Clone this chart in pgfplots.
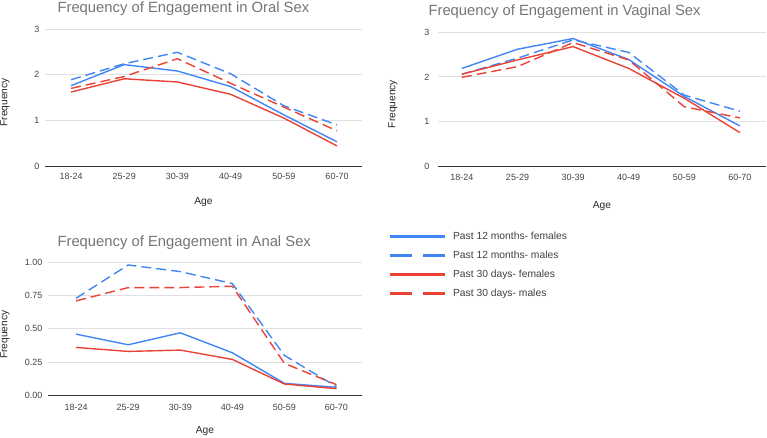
\documentclass[border=0pt]{standalone}
\usepackage{fontspec}
\setmainfont{Liberation Sans}
\usepackage{pgfplots}
\pgfplotsset{compat=1.18}
\definecolor{gblue}{HTML}{4285F4}
\definecolor{gred}{HTML}{EA4335}
\definecolor{gtitle}{HTML}{757575}
\definecolor{gtick}{HTML}{444444}
\definecolor{ggrid}{HTML}{E0E0E0}
\definecolor{gbase}{HTML}{333333}
\pgfplotsset{
  gchart/.style={
    scale only axis,
    axis x line*=bottom,
    axis y line*=left,
    x axis line style={draw=gbase, line width=0.9pt},
    y axis line style={draw=none},
    xtick={0,1,2,3,4,5},
    xticklabels={18-24,25-29,30-39,40-49,50-59,60-70},
    major tick length=0pt,
    ymajorgrids,
    grid style={draw=ggrid, line width=1pt},
    tick label style={font=\fontsize{9}{10}\selectfont, text=gtick},
    /pgf/number format/assume math mode=true,
    ymin=0,
    xlabel={Age},
    ylabel={Frequency},
    clip=false,
  },
  ylab/.style 2 args={every axis y label/.style={at={(axis description cs:0,#1)}, xshift=#2, anchor=center, rotate=90, font=\fontsize{10.2}{11}\selectfont, text=black!85}},
  xlab/.style={every axis x label/.style={at={(axis description cs:0.5,0)}, anchor=center, yshift=#1, font=\fontsize{10.2}{11}\selectfont, text=black!85}},
  fm/.style={gblue, line width=1.4pt},
  mm/.style={gblue, line width=1.4pt, dash pattern=on 10pt off 5pt},
  fd/.style={gred, line width=1.4pt},
  md/.style={gred, line width=1.4pt, dash pattern=on 10pt off 5pt},
}
\begin{document}
\begin{tikzpicture}[x=1pt,y=1pt]
\useasboundingbox (0,0) rectangle (767,-437);
% ---------- Oral ----------
\begin{axis}[gchart,
  at={(45pt,-166pt)}, anchor=south west,
  width=317pt, height=137pt,
  xmin=-0.49, xmax=5.47, ymax=3, ytick={0,1,2,3},
  yticklabel style={xshift=-2pt},
  xticklabel style={yshift=-3.5pt},
  xlab={-36pt}, ylab={0.464}{-40pt},
]
\addplot[fm] coordinates {(0,1.76) (1,2.22) (2,2.08) (3,1.74) (4,1.12) (5,0.53)};
\addplot[mm] coordinates {(0,1.89) (1,2.24) (2,2.49) (3,2.02) (4,1.32) (5,0.90)};
\addplot[fd] coordinates {(0,1.62) (1,1.91) (2,1.84) (3,1.57) (4,1.05) (5,0.44)};
\addplot[md] coordinates {(0,1.70) (1,1.96) (2,2.35) (3,1.81) (4,1.29) (5,0.77)};
\end{axis}
\node[anchor=base west, font=\fontsize{14.8}{16}\selectfont, text=gtitle] at (54,-12) {Frequency of Engagement in Oral Sex};
% ---------- Vaginal ----------
\begin{axis}[gchart,
  at={(438pt,-166pt)}, anchor=south west,
  width=328pt, height=133.7pt,
  xmin=-0.43, xmax=5.47, ymax=3, ytick={0,1,2,3},
  yticklabel style={xshift=-5pt},
  xticklabel style={yshift=-4.5pt},
  xlab={-40pt}, ylab={0.463}{-45pt},
]
\addplot[fm] coordinates {(0,2.19) (1,2.62) (2,2.86) (3,2.39) (4,1.56) (5,0.90)};
\addplot[mm] coordinates {(0,2.06) (1,2.42) (2,2.83) (3,2.55) (4,1.59) (5,1.23)};
\addplot[fd] coordinates {(0,2.06) (1,2.38) (2,2.68) (3,2.19) (4,1.52) (5,0.75)};
\addplot[md] coordinates {(0,1.99) (1,2.23) (2,2.77) (3,2.38) (4,1.33) (5,1.08)};
\end{axis}
\node[anchor=base west, font=\fontsize{14.8}{16}\selectfont, text=gtitle] at (425,-15) {Frequency of Engagement in Vaginal Sex};
% ---------- Anal ----------
\begin{axis}[gchart,
  at={(48pt,-395.3pt)}, anchor=south west,
  width=314pt, height=133pt,
  xmin=-0.54, xmax=5.49, ymax=1, ytick={0,0.25,0.5,0.75,1},
  yticklabel style={xshift=-2pt, /pgf/number format/.cd, fixed, fixed zerofill, precision=2},
  xticklabel style={yshift=-5pt},
  xlab={-36pt}, ylab={0.455}{-43pt},
  legend style={at={(axis description cs:1.0825,1.245)}, anchor=north west,
    draw=none, fill=none, inner sep=0pt, row sep=6.2pt, column sep=5pt,
    font=\fontsize{10.3}{11}\selectfont, text=black!75,
    legend cell align=left},
  legend image code/.code={\draw[#1] (0pt,0pt) -- (55pt,0pt);},
]
\addplot[fm, forget plot] coordinates {(0,0.46) (1,0.38) (2,0.47) (3,0.32) (4,0.09) (5,0.06)};
\addplot[mm, forget plot] coordinates {(0,0.73) (1,0.98) (2,0.93) (3,0.84) (4,0.30) (5,0.065)};
\addplot[fd, forget plot] coordinates {(0,0.36) (1,0.33) (2,0.34) (3,0.27) (4,0.085) (5,0.05)};
\addplot[md, forget plot] coordinates {(0,0.71) (1,0.81) (2,0.81) (3,0.82) (4,0.24) (5,0.08)};
\addlegendimage{gblue, line width=3pt}
\addlegendentry{Past 12 months- females}
\addlegendimage{gblue, line width=3pt, dash pattern=on 22pt off 11pt}
\addlegendentry{Past 12 months- males}
\addlegendimage{gred, line width=3pt}
\addlegendentry{Past 30 days- females}
\addlegendimage{gred, line width=3pt, dash pattern=on 22pt off 11pt}
\addlegendentry{Past 30 days- males}
\end{axis}
\node[anchor=base west, font=\fontsize{14.8}{16}\selectfont, text=gtitle] at (54,-246) {Frequency of Engagement in Anal Sex};
\end{tikzpicture}
\end{document}
